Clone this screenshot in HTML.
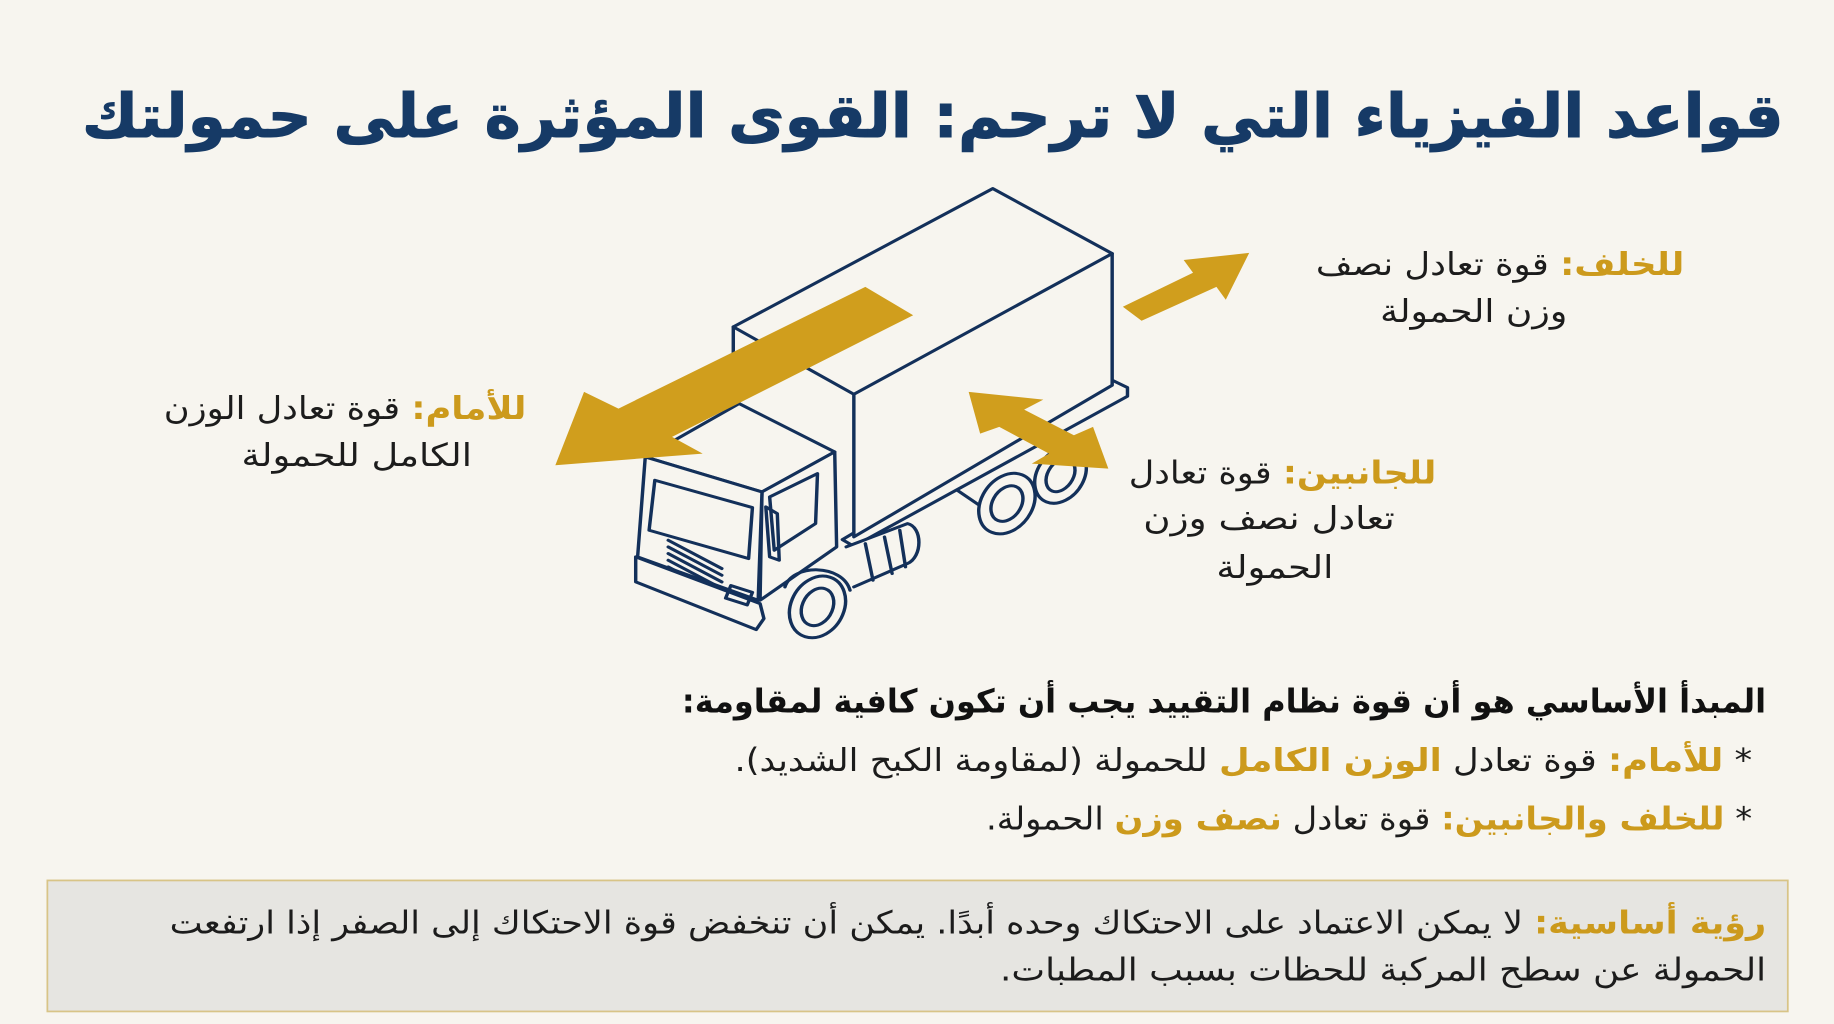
<!DOCTYPE html>
<html><head><meta charset="utf-8"><style>
html,body{margin:0;padding:0;background:#f7f5ef;}
svg{display:block;}
text{font-family:"DejaVu Sans","Liberation Sans",sans-serif;}
</style></head><body>
<svg width="1834" height="1024" viewBox="0 0 1568 875" xmlns="http://www.w3.org/2000/svg">
<rect width="1568" height="875" fill="#f7f5ef"/>
<text x="1525" y="117" direction="rtl" text-anchor="start" font-size="52" font-weight="bold" fill="#163a66" stroke="#163a66" stroke-width="0.8" textLength="1455" lengthAdjust="spacingAndGlyphs">قواعد الفيزياء التي لا ترحم: القوى المؤثرة على حمولتك</text>

<g transform="translate(461.7,145.3) scale(0.3272,0.285)" fill="none" stroke="#13305a" stroke-width="9" stroke-linejoin="round" stroke-linecap="round">
  <polygon points="1495,630 1535,652 1535,678 820,1128 790,1108" fill="#f7f5ef"/>
  <ellipse cx="1360" cy="915" rx="62" ry="88" transform="rotate(25 1360 915)" fill="#f7f5ef"/>
  <ellipse cx="1360" cy="915" rx="34" ry="52" transform="rotate(25 1360 915)"/>
  <path d="M1090,960 L1180,1030 L1230,990"/>
  <ellipse cx="1220" cy="1000" rx="68" ry="95" transform="rotate(25 1220 1000)" fill="#f7f5ef"/>
  <ellipse cx="1220" cy="1000" rx="38" ry="56" transform="rotate(25 1220 1000)"/>
  <polygon points="505,470 1183,55 1495,250 1495,645 820,1100 820,672" fill="#f7f5ef"/>
  <path d="M820,672 L1495,250 M505,470 L505,720"/>
  <path d="M800,1130 L960,1060 C1000,1070 1000,1160 960,1180 L820,1250" fill="#f7f5ef"/>
  <path d="M850,1120 L870,1230 M900,1100 L920,1210 M940,1080 L955,1190"/>
  <polygon points="275,860 520,700 770,845 580,965" fill="#f7f5ef"/>
  <polygon points="580,965 770,845 775,1130 575,1290" fill="#f7f5ef"/>
  <polygon points="275,860 580,965 570,1290 255,1160" fill="#f7f5ef"/>
  <polygon points="300,930 555,1012 545,1165 285,1080"/>
  <polygon points="600,980 725,910 720,1060 612,1140"/>
  <path d="M590,1010 L620,1030 L625,1170 L600,1160 Z"/>
  <path d="M335,1110 L475,1195 M335,1130 L475,1215 M335,1150 L475,1235 M335,1170 L475,1255 M335,1190 L475,1275"/>
  <polygon points="250,1160 575,1300 585,1345 565,1378 250,1235" fill="#f7f5ef"/>
  <rect x="490" y="1255" width="60" height="40" transform="rotate(20 520 1275)"/>
  <path d="M640,1250 C660,1180 790,1180 810,1260"/>
  <ellipse cx="725" cy="1310" rx="70" ry="95" transform="rotate(20 725 1310)" fill="#f7f5ef"/>
  <ellipse cx="725" cy="1310" rx="40" ry="58" transform="rotate(20 725 1310)"/>
  <polygon points="850,350 975,435 345,800 425,850 40,885 115,665 205,715" fill="#d09e1d" stroke="none"/>
  <polygon points="1120,665 1315,688 1265,718 1395,795 1445,770 1485,895 1285,880 1330,850 1200,770 1150,790" fill="#d09e1d" stroke="none"/>
</g>
<polygon points="960,262 1020,233 1012,222 1068,216 1048,256 1040,245 976,274" fill="#d09e1d"/>

<g font-size="27" fill="#1c1c1c">
<text x="1440" y="235" direction="rtl" text-anchor="start" textLength="315" lengthAdjust="spacingAndGlyphs"><tspan fill="#cc9a1c" font-weight="bold">للخلف:</tspan> قوة تعادل نصف</text>
<text x="1260" y="275" text-anchor="middle" textLength="160" lengthAdjust="spacingAndGlyphs">وزن الحمولة</text>
<text x="450" y="358" direction="rtl" text-anchor="start" textLength="310" lengthAdjust="spacingAndGlyphs"><tspan fill="#cc9a1c" font-weight="bold">للأمام:</tspan> قوة تعادل الوزن</text>
<text x="305" y="398" text-anchor="middle" textLength="197" lengthAdjust="spacingAndGlyphs">الكامل للحمولة</text>
<text x="1228" y="413" direction="rtl" text-anchor="start" textLength="263" lengthAdjust="spacingAndGlyphs"><tspan fill="#cc9a1c" font-weight="bold">للجانبين:</tspan> قوة تعادل</text>
<text x="1085" y="452" text-anchor="middle" textLength="215" lengthAdjust="spacingAndGlyphs">تعادل نصف وزن</text>
<text x="1090" y="494" text-anchor="middle" textLength="100" lengthAdjust="spacingAndGlyphs">الحمولة</text>
</g>

<text x="1510" y="609" direction="rtl" text-anchor="start" font-size="28" font-weight="bold" fill="#111" textLength="927" lengthAdjust="spacingAndGlyphs">المبدأ الأساسي هو أن قوة نظام التقييد يجب أن تكون كافية لمقاومة:</text>
<text x="1498" y="659" direction="rtl" text-anchor="start" font-size="27" fill="#1c1c1c" textLength="870" lengthAdjust="spacingAndGlyphs">* <tspan fill="#cc9a1c" font-weight="bold">للأمام:</tspan> قوة تعادل <tspan fill="#cc9a1c" font-weight="bold">الوزن الكامل</tspan> للحمولة (لمقاومة الكبح الشديد).</text>
<text x="1498" y="709" direction="rtl" text-anchor="start" font-size="27" fill="#1c1c1c" textLength="655" lengthAdjust="spacingAndGlyphs">* <tspan fill="#cc9a1c" font-weight="bold">للخلف والجانبين:</tspan> قوة تعادل <tspan fill="#cc9a1c" font-weight="bold">نصف وزن</tspan> الحمولة.</text>

<rect x="40.5" y="752.5" width="1488" height="112" fill="#e6e5e1" stroke="#d8c487" stroke-width="1.5"/>
<text x="1510" y="798" direction="rtl" text-anchor="start" font-size="27" fill="#1c1c1c" textLength="1365" lengthAdjust="spacingAndGlyphs"><tspan fill="#cc9a1c" font-weight="bold">رؤية أساسية:</tspan> لا يمكن الاعتماد على الاحتكاك وحده أبدًا. يمكن أن تنخفض قوة الاحتكاك إلى الصفر إذا ارتفعت</text>
<text x="1510" y="838" direction="rtl" text-anchor="start" font-size="27" fill="#1c1c1c" textLength="655" lengthAdjust="spacingAndGlyphs">الحمولة عن سطح المركبة للحظات بسبب المطبات.</text>
</svg>
</body></html>
